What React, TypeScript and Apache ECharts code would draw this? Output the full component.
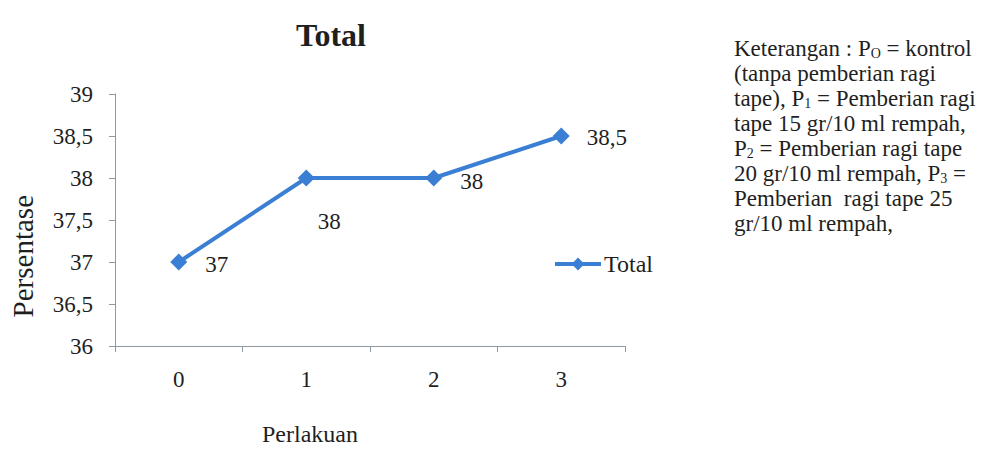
import React, { useEffect, useRef } from "react";
import * as echarts from "echarts";

const categories = ["0", "1", "2", "3"];
const totalValues = [37, 38, 38, 38.5];
const yTicks = { min: 36, max: 39, interval: 0.5 };
// per-point label offsets (pixels) so labels sit clear of the line
const labelOffsets: [number, number][] = [
  [13, 2],
  [-2, 43],
  [13, 3],
  [12, 1],
];
const noteLines = [
  "Keterangan : P{s|O} = kontrol",
  "(tanpa pemberian ragi",
  "tape), P{s|1} = Pemberian ragi",
  "tape 15 gr/10 ml rempah,",
  "P{s|2} = Pemberian ragi tape",
  "20 gr/10 ml rempah, P{s|3} =",
  "Pemberian  ragi tape 25",
  "gr/10 ml rempah,",
];

const FONT = "'Liberation Serif', 'Times New Roman', serif";
const TEXT = "#1f1f1f";
const LINE = "#3a7fd3";
const AXIS = "#8c98a2";

const fmt = (v: number) => String(v).replace(".", ",");

export default function App() {
  const ref = useRef<HTMLDivElement>(null);

  useEffect(() => {
    if (!ref.current) return;
    const chart = echarts.init(ref.current, undefined, { renderer: "svg" });

    const noteGraphics = noteLines.map((t, i) => ({
      type: "text",
      left: 734,
      top: 37 + i * 25,
      style: {
        text: t,
        font: `23px ${FONT}`,
        fill: TEXT,
        rich: {
          s: { fontSize: 14, fontFamily: FONT, fill: TEXT, verticalAlign: "bottom", padding: [10, 0, 0, 0] },
        },
      },
    }));

    chart.setOption({
      animation: false,
      backgroundColor: "#fff",
      title: {
        text: "Total",
        left: 326,
        top: 14,
        textAlign: "center",
        textStyle: { fontFamily: FONT, fontSize: 32, fontWeight: "bold", color: TEXT },
      },
      grid: { left: 115, right: 380, top: 94, bottom: 103 },
      legend: {
        left: 553,
        top: 252,
        padding: 0,
        itemWidth: 46,
        itemHeight: 16,
        itemGap: 4,
        lineStyle: { width: 4 },
        textStyle: { fontFamily: FONT, fontSize: 24, color: TEXT, padding: [0, 0, 0, -2] },
        data: ["Total"],
      },
      xAxis: {
        type: "category",
        data: categories,
        boundaryGap: true,
        axisLine: { lineStyle: { color: AXIS, width: 1 } },
        axisTick: { show: true, length: 6, lineStyle: { color: AXIS } },
        axisLabel: { fontFamily: FONT, fontSize: 23, color: TEXT, margin: 22 },
        splitLine: { show: false },
      },
      yAxis: {
        type: "value",
        min: yTicks.min,
        max: yTicks.max,
        interval: yTicks.interval,
        axisLine: { show: true, lineStyle: { color: AXIS, width: 1 } },
        axisTick: { show: true, length: 6, lineStyle: { color: AXIS } },
        axisLabel: { fontFamily: FONT, fontSize: 23, color: TEXT, margin: 22, formatter: (v: number) => fmt(v) },
        splitLine: { show: false },
      },
      series: [
        {
          name: "Total",
          type: "line",
          data: totalValues.map((v, i) => ({
            value: v,
            label: { offset: labelOffsets[i] },
          })),
          symbol: "diamond",
          symbolSize: 17,
          lineStyle: { color: LINE, width: 4 },
          itemStyle: { color: LINE },
          label: {
            show: true,
            position: "right",
            fontFamily: FONT,
            fontSize: 23,
            color: TEXT,
            formatter: (p: any) => fmt(p.value),
          },
        },
      ],
      graphic: [
        {
          type: "text",
          left: 8,
          top: 195,
          rotation: Math.PI / 2,
          style: { text: "Persentase", font: `29px ${FONT}`, fill: TEXT },
        },
        {
          type: "text",
          left: 262,
          top: 422,
          style: { text: "Perlakuan", font: `24px ${FONT}`, fill: TEXT },
        },
        ...noteGraphics,
      ],
    });

    return () => chart.dispose();
  }, []);

  return (
    <div
      ref={ref}
      style={{ position: "absolute", left: 0, top: 0, width: 1005, height: 449 }}
    />
  );
}
